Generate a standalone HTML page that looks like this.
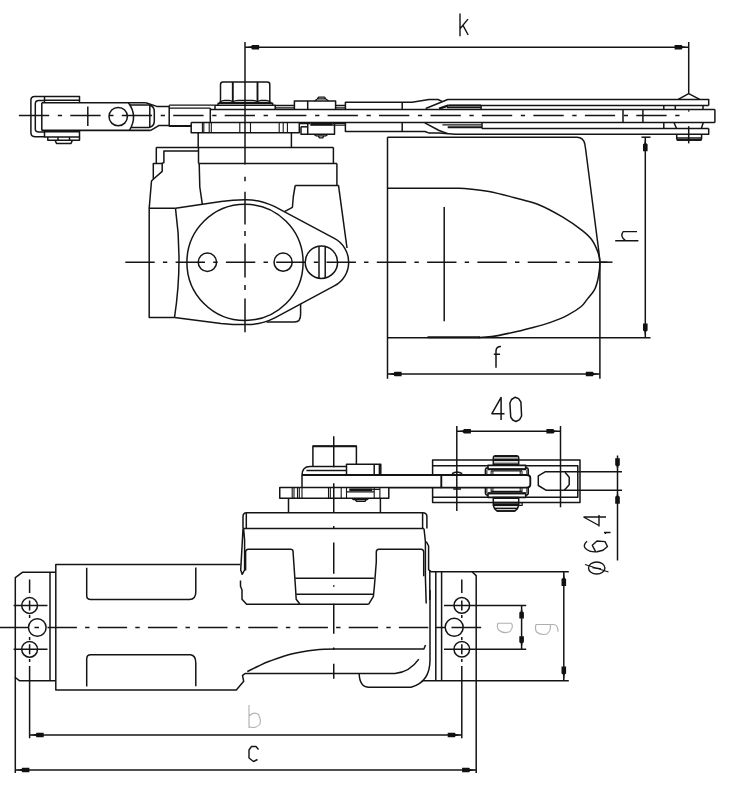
<!DOCTYPE html>
<html><head><meta charset="utf-8"><title>Door closer dimensions</title>
<style>
html,body{margin:0;padding:0;background:#fff;}
body{width:733px;height:800px;overflow:hidden;font-family:"Liberation Sans",sans-serif;}
svg{display:block}
</style></head><body>
<svg width="733" height="800" viewBox="0 0 733 800">
<rect x="0" y="0" width="733" height="800" fill="#fff" stroke="none"/>
<g fill="none" stroke="#141414" stroke-width="1.5" stroke-linecap="butt" stroke-linejoin="round" style="filter:blur(0.3px)">
<!-- k dimension -->
<line x1="245" y1="42" x2="245" y2="164.5"/>
<line x1="245" y1="47.2" x2="688.7" y2="47.2"/>
<line x1="688.7" y1="42" x2="688.7" y2="93.7"/>
<polygon points="245.6,47.2 251.1,46.3 252.1,44.9 259.1,44.9 259.1,49.5 252.1,49.5 251.1,48.1" fill="#111" stroke="none"/>
<polygon points="688.1,47.2 682.6,46.3 681.6,44.9 674.6,44.9 674.6,49.5 681.6,49.5 682.6,48.1" fill="#111" stroke="none"/>
<path d="M460,13.4V36.2M460,28.8L468,19.1M463,25.4L468.2,35" stroke-width="1.4"/>
<!-- vertical centre line top view -->
<path d="M245,176.7V181.3 M245,191.8V224.5 M245,231V236 M245,243.5V277.5 M245,285V290 M245,298.5V332.3"/>
<!-- arm centre line -->
<path d="M18.9,115.6H49.2 M57.8,115.6H62.1 M70.3,115.6H100.6 M109.2,115.6H113.5 M121.8,115.6H152.1 M160.7,115.6H165.0 M173.2,115.6H203.6 M212.2,115.6H216.5 M224.7,115.6H255.0 M263.6,115.6H267.9 M276.1,115.6H306.4 M315.1,115.6H319.4 M327.6,115.6H357.9 M366.5,115.6H370.8 M379.0,115.6H409.3 M417.9,115.6H422.2 M430.5,115.6H460.8 M469.4,115.6H473.7 M481.9,115.6H512.2 M520.8,115.6H525.1 M533.4,115.6H563.7 M572.3,115.6H576.6 M584.9,115.6H615.1 M623.8,115.6H628.0 M636.3,115.6H666.6 M675.2,115.6H679.5"/>
<!-- horizontal centre line top view -->
<path d="M125.3,262.2H154.7 M162.9,262.2H167.3 M175.6,262.2H205.0 M213.2,262.2H217.6 M225.9,262.2H255.3 M263.5,262.2H267.9 M276.2,262.2H305.6 M313.8,262.2H318.2 M326.5,262.2H355.9 M364.1,262.2H368.5 M376.8,262.2H406.2 M414.4,262.2H418.8 M427.1,262.2H456.5 M464.7,262.2H469.1 M477.4,262.2H506.8 M515.0,262.2H519.4 M527.7,262.2H557.1 M565.3,262.2H569.7 M578.0,262.2H607.4"/>
<line x1="600" y1="262.2" x2="612.5" y2="262.2"/>
<!-- left U bracket -->
<path d="M79.5,102.7V96.5H34.5Q30.9,96.5 30.9,100.3V132.5Q30.9,136.8 35.5,136.8H44.5"/>
<path d="M44.5,100.6H38.8Q35.3,100.6 35.3,104V129Q35.3,132 38.8,132H44.5"/>
<line x1="44.5" y1="100.2" x2="79.5" y2="100.2"/>
<line x1="44.5" y1="96.5" x2="44.5" y2="102.7"/>
<line x1="41.8" y1="102.7" x2="41.8" y2="130.4"/>
<path d="M41.8,102.7H145.8" stroke-width="1.6"/>
<path d="M41.8,130.4H150.8" stroke-width="1.6"/>
<path d="M44.5,130.4V137H79.5V130.4"/>
<line x1="44.5" y1="131.8" x2="79.5" y2="131.8"/>
<path d="M47.8,137V140.2H79.5V137"/>
<path d="M55,140.2L56.5,143.4H71L72.4,140.2"/>
<line x1="58" y1="137" x2="58" y2="140.2"/>
<line x1="69.5" y1="137" x2="69.5" y2="140.2"/>
<line x1="87.8" y1="106.4" x2="87.8" y2="126"/>
<circle cx="118.2" cy="116.6" r="9.2"/>
<path d="M128.4,102.7Q138.2,116 129.4,130.4"/>
<path d="M130,105H149Q154.3,106 154.3,111.5V121Q154.3,126.5 149,127.4H130.6"/>
<line x1="149.8" y1="105" x2="149.8" y2="127.4"/>
<path d="M145.8,102.7L156.8,106.4H169.2"/>
<path d="M150.8,130.4L158.7,125.6H169.2"/>
<!-- arm section 1 -->
<line x1="169.2" y1="105.5" x2="169.2" y2="126.4"/>
<path d="M169.2,105.2H214.6M169.2,108.1H210.3" stroke-width="1.3"/>
<path d="M169.2,126H191.2" stroke-width="2.0"/>
<line x1="210.3" y1="108.1" x2="210.3" y2="122.5"/>
<!-- nut -->
<path d="M220.5,102.5V84.5Q220.5,82 223,82H267.3Q269.8,82 269.8,84.5V102.5"/>
<path d="M232.8,82V101.8M257.5,82V101.8" stroke-width="1.9"/>
<path d="M220.5,101.8Q222,100.3 224.5,100.3H229Q231.5,100.3 232.8,101.8M232.8,101.8Q235,100.3 238,100.3H252Q255.5,100.3 257.5,101.8M257.5,101.8Q259,100.3 261,100.3H266Q268.5,100.3 269.8,101.8" stroke-width="1.2"/>
<!-- washer -->
<path d="M215,109.6V105.3H275.2V109.6M218.1,105.3V103.3H272.6V105.3"/>
<line x1="219" y1="102.4" x2="271.5" y2="102.4"/>
<!-- middle layer arm -->
<line x1="210.3" y1="109.6" x2="714.9" y2="109.6"/>
<line x1="191.2" y1="122.5" x2="714.9" y2="122.5"/>
<line x1="714.9" y1="109.6" x2="714.9" y2="122.5"/>
<!-- plate under arm -->
<path d="M191.2,122.4V132.8H299.3V122.4"/>
<path d="M202.4,122.4V132.8M203.8,122.4V132.8M209.2,122.4V132.8M211.3,122.4V132.8M239.8,122.4V132.8M250.5,122.4V132.8M279.2,122.4V132.8M283.2,122.4V132.8M287.4,122.4V132.8" stroke-width="1.1"/>
<line x1="198.2" y1="132.8" x2="198.2" y2="147.4"/>
<line x1="291.4" y1="132.8" x2="291.4" y2="147.4"/>
<!-- thin plate + pin heads -->
<path d="M275.3,105.5H294.4M335.6,105.5H345.4M275.3,107.8H294.4M335.6,107.8H345.4" stroke-width="1.3"/>
<path d="M294.4,109.4V100.9H335.6V109.4"/>
<line x1="307.7" y1="100.9" x2="307.7" y2="109.4"/>
<path d="M314.6,100.9L317.3,98.9H325.8L328.5,100.9M317.3,98.9L318.6,97.2H324.5L325.8,98.9" stroke-width="1.3"/>
<path d="M301,126.8V134.2H334.5V122.6"/>
<line x1="307.7" y1="123.4" x2="307.7" y2="134.2"/>
<path d="M310.3,124.4H332.8" stroke-width="2.8"/>
<line x1="301" y1="126.8" x2="307.7" y2="126.8"/>
<path d="M313.7,134.2L316,135.8H326L328,134.2M318,135.8L319.5,137.8H322.7L324,135.8" stroke-width="1.3"/>
<path d="M299.3,123.6H310M332.8,123.6H345.4M332.8,125.2H345.4" stroke-width="1.1"/>
<!-- right arm -->
<path d="M345.4,109.7V102.2H412L429,99.5H438L442,101.4"/>
<path d="M425.7,108.5L447.7,99.5H708.7V105.4"/>
<path d="M345.4,122.5V131.5H425L428.6,132.9H439L455.3,134.3H708.7V128.6"/>
<line x1="402.2" y1="102.2" x2="402.2" y2="109.7"/>
<line x1="402.2" y1="122.5" x2="402.2" y2="131.5"/>
<path d="M439.1,108.6L448.7,105.4" stroke-width="2.2"/>
<path d="M448.7,105.4H708.7"/>
<path d="M448.7,105.5H481.1" stroke-width="2.0"/>
<path d="M447,107.7H481.1" stroke-width="1.2"/>
<line x1="481.1" y1="105.4" x2="481.1" y2="109.7"/>
<path d="M424.8,122.9L439.1,130.5L447.7,133.6"/>
<path d="M442.4,124.8H481.6" stroke-width="1.2"/>
<path d="M447.7,127.3H482" stroke-width="2.0"/>
<path d="M482,128.5H708.7"/>
<line x1="482" y1="122.5" x2="482" y2="128.5"/>
<!-- right end -->
<line x1="623" y1="109.7" x2="623" y2="122.5"/>
<line x1="642.9" y1="109.7" x2="642.9" y2="122.5"/>
<path d="M663.8,105.4V109.7M675.3,105.4V109.7M703,105.4V109.7"/>
<path d="M663.8,122.5V128.5M674,122.5L676.5,128.5M703.3,122.5L701.3,128.5"/>
<path d="M676.7,134.3V138.6Q676.7,140 678.5,140H699.8Q701.6,140 701.6,138.6V134.3"/>
<path d="M676.7,140H701.6" stroke-width="1.8"/>
<line x1="676.7" y1="138" x2="701.6" y2="138"/>
<path d="M678.2,99.4L688.7,93.7L699.7,99.4"/>
<path d="M688.7,126.2V143.4"/>
<line x1="688.7" y1="110.2" x2="688.7" y2="111.6"/>
<!-- body -->
<line x1="156.3" y1="147.4" x2="333.4" y2="147.4"/>
<line x1="156.3" y1="147.4" x2="156.3" y2="163.4"/>
<line x1="333.4" y1="147.4" x2="333.4" y2="163.4"/>
<line x1="198.5" y1="163.4" x2="336.9" y2="163.4"/>
<line x1="198.5" y1="147.4" x2="198.5" y2="163.4"/>
<path d="M198.5,151H163.9V162.5L162.2,163.4V171.4L153.3,179.3"/>
<path d="M162.2,163.4H153.3V179.3L151.5,181L149.2,208.3"/>
<line x1="199.2" y1="163.4" x2="199.8" y2="187"/>
<line x1="199.8" y1="187" x2="202.3" y2="204.2"/>
<line x1="336.9" y1="163.4" x2="336.9" y2="185.5"/>
<line x1="295.2" y1="185.5" x2="338.7" y2="185.5"/>
<path d="M295.2,185.5L293.4,196L292.4,207.3L284.5,211.6"/>
<path d="M338.5,185.3L347,248"/>
<!-- ear outline -->
<path d="M175.5,208.3L221,201.5Q233,199.8 245,199.8A62.6,62.6 0 0 1 274.8,206.7L334.3,238.4A26.8,26.8 0 0 1 334.3,285.9L274.8,317.8A62.6,62.6 0 0 1 245,324.6Q233,324.6 221,323.4L174.5,317.6"/>
<circle cx="245" cy="262.4" r="58.1"/>
<path d="M175.5,208.3H149.2V317.6H174.5"/>
<path d="M175.5,208.3Q183,262 174.5,317.6"/>
<path d="M300.6,303.7V314.5Q300.6,322 294.6,322H266.5"/>
<circle cx="207.4" cy="262.2" r="9.2"/>
<circle cx="283.1" cy="262.2" r="9.1"/>
<circle cx="321.4" cy="262.2" r="16.2"/>
<line x1="319" y1="246.4" x2="319" y2="278"/>
<line x1="325.2" y1="246.6" x2="325.2" y2="277.8"/>
<!-- cover -->
<line x1="387.5" y1="137.2" x2="387.5" y2="378.8"/>
<path d="M387.5,137.2H577Q583.6,137.5 584.8,144L585.6,149L598.9,252L599.9,262.3V378.8"/>
<line x1="387.5" y1="337.8" x2="650.5" y2="337.8"/>
<path d="M387.5,188.2H455C458.0,188.2 458.9,187.9 464.6,188.4C470.3,188.9 480.8,189.9 489.0,191.4C497.2,192.9 505.5,195.3 513.7,197.5C521.9,199.7 530.0,201.2 538.2,204.5C546.4,207.8 555.4,212.8 562.8,217.2C570.2,221.6 577.5,226.8 582.4,230.7C587.3,234.6 589.7,236.8 592.3,240.5C594.9,244.2 596.9,249.4 598.2,253.0C599.5,256.6 599.9,258.3 599.9,262.3C599.9,266.3 599.3,272.5 598.4,277.0C597.5,281.5 596.6,285.6 594.7,289.3C592.9,293.0 589.5,296.2 587.3,299.1C585.0,302.0 584.5,303.8 581.2,306.5C577.9,309.2 572.8,312.5 567.7,315.1C562.6,317.8 556.2,320.3 550.5,322.4C544.8,324.4 539.4,325.8 533.3,327.4C527.2,329.0 520.7,330.8 513.7,332.3C506.8,333.8 497.6,335.8 491.6,336.6C485.7,337.5 482.7,337.4 478.0,337.4"/>
<path d="M427.5,337.3H480" stroke-width="2.0"/>
<line x1="444.2" y1="207" x2="444.2" y2="321.3"/>
<!-- f dimension -->
<line x1="387.5" y1="374" x2="599.9" y2="374"/>
<polygon points="388.1,374.0 393.6,373.1 394.6,371.7 401.6,371.7 401.6,376.3 394.6,376.3 393.6,374.9" fill="#111" stroke="none"/>
<polygon points="599.3,374.0 593.8,373.1 592.8,371.7 585.8,371.7 585.8,376.3 592.8,376.3 593.8,374.9" fill="#111" stroke="none"/>
<path d="M496,367.8V351Q496,346.5 501,346.6M493.8,354.3H500" stroke-width="1.5"/>
<!-- h dimension -->
<line x1="645.3" y1="137.2" x2="645.3" y2="337.5"/>
<line x1="641.5" y1="137.2" x2="650.5" y2="137.2"/>
<polygon points="645.3,137.8 644.4,143.3 643.0,144.3 643.0,151.3 647.6,151.3 647.6,144.3 646.2,143.3" fill="#111" stroke="none"/>
<polygon points="645.3,336.9 644.4,331.4 643.0,330.4 643.0,323.4 647.6,323.4 647.6,330.4 646.2,331.4" fill="#111" stroke="none"/>
<path d="M615.2,240.8H638.4M625.5,240.6Q619.5,236 623.2,231.6H637" stroke-width="1.4"/>
<!-- left flange -->
<path d="M55.8,572.2H22.7L15.3,577.7V677.5L19.3,680.7H55.8"/>
<line x1="50" y1="572.2" x2="50" y2="680.7"/>
<line x1="15.3" y1="677" x2="15.3" y2="773"/>
<!-- body outline -->
<path d="M240.5,564.6H55.8V690.1H236.3L243.7,681.3L242.5,675.3L245,673.6H395Q410,672 418.8,659.2"/>
<path d="M359.2,673.6Q359.5,687.3 369,687.3H411Q430,682 430,660V590"/>
<path d="M247.3,671.6C250.9,669.8 254.2,668.1 258.0,666.3C261.8,664.5 264.2,663.1 270.0,661.0C275.8,658.9 285.0,655.5 292.5,653.7C300.0,651.9 307.9,650.8 315.0,650.0C322.1,649.2 329.0,649.1 335.0,649.1H423.9L425.5,645"/>
<!-- slots -->
<path d="M86.7,567.7V595.6Q86.7,599.6 90.7,599.6H189.5Q195.8,599.2 195.8,592V567.5"/>
<path d="M86.7,686.5V659Q86.7,654.8 90.7,654.8H190.5Q195.8,655.4 195.8,663V686.3"/>
<!-- left holes -->
<circle cx="29.6" cy="605.5" r="7.9"/>
<circle cx="37.3" cy="627.5" r="8.8"/>
<circle cx="29.6" cy="649.3" r="7.9"/>
<path d="M29.6,579.5V593 M29.6,600.5V610.5 M29.6,615V618 M29.6,637V640 M29.6,644.3V654.3 M29.6,659V662 M29.6,666V738.2"/>
<path d="M13.6,605.5H47.5"/>
<path d="M13.6,649.3H47.5"/>
<!-- main centre line -->
<path d="M0,627.5H28.3 M34.5,627.5H39"/>
<path d="M47.5,627.5H76.9 M85.1,627.5H89.5 M97.7,627.5H127.1 M135.3,627.5H139.7 M147.9,627.5H177.3 M185.5,627.5H189.9 M198.1,627.5H227.5 M235.7,627.5H240.1 M248.3,627.5H277.7 M285.9,627.5H290.3 M298.5,627.5H327.9 M336.1,627.5H340.5 M348.7,627.5H378.1 M386.3,627.5H390.7 M398.9,627.5H428.3"/>
<path d="M435.8,627.4H445.3 M451.5,627.4H481.2"/>
<!-- housing -->
<path d="M243,528.5V516.5Q243,512.65 246.6,512.65H422.6Q426.9,512.65 426.9,516.5V528.5"/>
<line x1="246.3" y1="513" x2="246.3" y2="528.5"/>
<line x1="422.6" y1="513" x2="422.6" y2="528.5"/>
<line x1="243.2" y1="528.5" x2="424" y2="528.5"/>
<path d="M243,528.5L242.4,540L240.7,570L242.2,574.3L244.6,570V540L243.6,528.5"/>
<path d="M424,528.5L425.4,541.7V577.6L426.2,603.5"/>
<path d="M426.3,541.7L428.6,546V569.7L431.2,571.8H568.8"/>
<path d="M429.8,570.4V600"/>
<!-- left inner rect -->
<path d="M245.6,570.4V552Q245.6,549.2 248.3,549.2H290.5Q292.9,549.2 293,551L295.4,586.3L296.2,599.2L299.8,604"/>
<path d="M240.5,580.5V586.3L242,590V599.2L246.6,604.2H368.7"/>
<!-- right inner rect -->
<path d="M423.7,576.2V552Q423.7,549.2 421,549.2H378.8Q376.3,549.2 376.3,552V561.8L374.4,586.3L373.4,596.3L368.7,604.2"/>
<line x1="295.2" y1="578.3" x2="373.9" y2="578.3"/>
<line x1="296.2" y1="594.2" x2="373.4" y2="594.2"/>
<!-- right flange -->
<line x1="435.8" y1="571.8" x2="435.8" y2="680.7"/>
<line x1="441.6" y1="571.8" x2="441.6" y2="680.7"/>
<path d="M421.9,680.7H568.8"/>
<path d="M472,571.8L476.2,575.6V773"/>
<circle cx="461.8" cy="605.4" r="7.8"/>
<circle cx="454.2" cy="627.3" r="9"/>
<circle cx="461.8" cy="649.3" r="7.8"/>
<path d="M461.8,579.4V593 M461.8,600.5V610.5 M461.8,615V618 M461.8,637V640 M461.8,644.3V654.3 M461.8,659V662 M461.8,666V738.2"/>
<path d="M444,605.5H526.2"/>
<path d="M444,649.3H526.2"/>
<!-- upper assembly -->
<path d="M333.75,436.2V467.2 M333.75,483.2V512.5 M333.75,526V529 M333.75,542.5V573.75 M333.75,585.3V586.8 M333.75,603.75V633.75 M333.75,647.5V650 M333.75,663.75V678.75"/>
<path d="M312.9,466.4V446H356.4V464.6"/>
<path d="M312.9,446.3H356.4" stroke-width="1.8"/>
<path d="M302,487.6V475.2Q302,466.4 310,466.4H346.6"/>
<line x1="306.4" y1="470.4" x2="346.6" y2="470.4"/>
<path d="M302,475H441.3" stroke-width="1.9"/>
<path d="M388.8,487.6H441.3" stroke-width="1.9"/>
<path d="M346.5,474.6V464.3H380.8V474.6"/>
<line x1="374.2" y1="464.3" x2="374.2" y2="474.6"/>
<line x1="379.4" y1="464.3" x2="379.4" y2="474.6"/>
<path d="M279.75,487.6H388.8V498.3H279.75Z"/>
<path d="M292.2,487.6V498.3M294,487.6V498.3M297.5,487.6V498.3M299.3,487.6V498.3M302,487.6V498.3M328.5,487.6V498.3M330.3,487.6V498.3M341.2,487.6V498.3M346.5,487.6V498.3M374.2,487.6V498.3M379.9,487.6V498.3" stroke-width="1.1"/>
<path d="M349.3,489.7H372.2" stroke-width="2.6"/>
<path d="M346.5,491.8H374.2M372.2,489.4H379.9" stroke-width="1.2"/>
<path d="M351.7,498.3L353.5,499.6H367L368.9,498.3M355,499.6L356.5,501.3H365L366.5,499.6" stroke-width="1.3"/>
<path d="M288.5,498.3V512.65M380.4,498.3V512.65"/>
<!-- clamp and roller -->
<path d="M432.6,475V460H580V502.6H432.6V487.6"/>
<path d="M432.6,465.8H577.8V497.2H432.6"/>
<!-- roller -->
<rect x="485.4" y="467.7" width="42.9" height="27.5" rx="2.4"/>
<path d="M486.9,470V493M491.1,471V492M492.9,471V492M520.2,471V492M522,471V492M526.9,470V493" stroke-width="1.0"/>
<path d="M491.1,470.9H522M491.1,491.3H522" stroke-width="1.3"/>
<rect x="488" y="465.4" width="37.7" height="3.8" fill="#fff" stroke-width="1.6"/>
<path d="M488,469.3H525.7" stroke-width="2.0"/>
<rect x="488" y="493.4" width="37.7" height="4" fill="#fff" stroke-width="1.6"/>
<path d="M488,493.2H525.7" stroke-width="2.0"/>
<path d="M493.3,465.2V457.5Q493.3,455.9 495,455.9H517Q518.7,455.9 518.7,457.5V465.2Z" fill="#fff" stroke-width="1.5"/>
<path d="M494.5,456.1H517.5" stroke-width="2.0"/>
<path d="M493.3,459.8H518.7" stroke-width="2.4"/>
<path d="M493.3,464.4H518.7" stroke-width="2.2"/>
<path d="M493.6,457.9H518.4M493.6,462.2H518.4" stroke-width="0.7" stroke="#666"/>
<path d="M493.3,497.6V505.5L494.6,508.6L497,511H515L517.4,508.6L518.7,505.5V497.6Z" fill="#fff" stroke-width="1.5"/>
<path d="M493.3,498H518.7" stroke-width="2.0"/>
<path d="M493.3,502.7H518.7" stroke-width="2.2"/>
<path d="M493.3,505H518.7" stroke-width="2.2"/>
<path d="M494.6,508.4H517.4" stroke-width="1.6"/>
<path d="M497,511H515" stroke-width="1.6"/>
<path d="M517.8,502.7H522.2V505.3H517.8" stroke-width="1.2"/>
<path d="M441.3,475H526.5Q530.3,475 530.3,478V484.6Q530.3,487.6 526.5,487.6H441.3Z" fill="#fff" stroke-width="1.9"/>
<path d="M452,473.6Q457,470.2 462.2,473.6M453.2,488.9H461"/>
<!-- slot hexagon -->
<path d="M622,471.7H545.5L538.3,475.8V485.5L546.3,490.3H622"/>
<path d="M565,472.2L569.2,477.3V484.8L564.3,490.3"/>
<!-- 40 dimension -->
<line x1="456.8" y1="426" x2="456.8" y2="511"/>
<line x1="560.5" y1="426" x2="560.5" y2="507.3"/>
<line x1="456.8" y1="431.3" x2="560.5" y2="431.3"/>
<polygon points="457.4,431.3 462.9,430.4 463.9,429.0 470.9,429.0 470.9,433.6 463.9,433.6 462.9,432.2" fill="#111" stroke="none"/>
<polygon points="559.9,431.3 554.4,430.4 553.4,429.0 546.4,429.0 546.4,433.6 553.4,433.6 554.4,432.2" fill="#111" stroke="none"/>
<path d="M501.1,419.9V397.4L491.9,413.7H504.5" stroke-width="1.5"/>
<path d="M509.9,403L511.5,399.5L515.2,397.2L518.6,398.6L520.9,402L521.6,416L519.6,419.6L516,421.5L512.7,420L510.7,417Z" stroke-width="1.5"/>
<!-- dia 6.4 dimension -->
<line x1="617.5" y1="455.5" x2="617.5" y2="560.5"/>
<polygon points="617.5,471.7 616.6,466.2 615.2,465.2 615.2,458.2 619.8,458.2 619.8,465.2 618.4,466.2" fill="#111" stroke="none"/>
<polygon points="617.5,490.3 616.6,495.8 615.2,496.8 615.2,503.8 619.8,503.8 619.8,496.8 618.4,495.8" fill="#111" stroke="none"/>
<path d="M583.5,517H606M583.5,517L599,525.5M599,515V526.5" stroke-width="1.4"/>
<path d="M604,532.5H610.5M605.5,532.5V534" stroke-width="1.4"/>
<path d="M587,541.3Q582.5,545.5 585.5,548.5Q590,552.5 597,551.8L603,550.3L607.5,546.5L605,541.6L597,541L592.3,545.3L595.5,551.3" stroke-width="1.4"/>
<ellipse cx="596.7" cy="568" rx="8.2" ry="6" stroke-width="1.4"/>
<path d="M585,564.5L608.5,572M592.5,567.5L601,569" stroke-width="1.3"/>
<!-- a dimension -->
<line x1="521.6" y1="605.5" x2="521.6" y2="649.3"/>
<polygon points="521.6,606.0 520.7,611.5 519.3,612.5 519.3,618.5 523.9,618.5 523.9,612.5 522.5,611.5" fill="#111" stroke="none"/>
<polygon points="521.6,648.8 520.7,643.3 519.3,642.3 519.3,636.3 523.9,636.3 523.9,642.3 522.5,643.3" fill="#111" stroke="none"/>
<path d="M497.9,623.2H511.4M511.4,623.2Q514,627.5 509.6,631.8Q503.4,634 498.5,630Q496.5,627 497.9,623.2" stroke-width="1.1" stroke="#b0b0b0"/>
<!-- g dimension -->
<line x1="563.8" y1="571.8" x2="563.8" y2="680.7"/>
<polygon points="563.8,572.4 562.9,577.9 561.5,578.9 561.5,585.9 566.1,585.9 566.1,578.9 564.7,577.9" fill="#111" stroke="none"/>
<polygon points="563.8,680.1 562.9,674.6 561.5,673.6 561.5,666.6 566.1,666.6 566.1,673.6 564.7,674.6" fill="#111" stroke="none"/>
<path d="M536,624.5H553.8Q558,625 558,631.8M550.2,624.5Q551.5,630 547,634Q541,635.5 536.5,632Q534.5,628.5 536,624.5" stroke-width="1.1" stroke="#b0b0b0"/>
<!-- b dimension -->
<line x1="29.6" y1="735" x2="461.8" y2="735"/>
<polygon points="30.2,735.0 35.7,734.1 36.7,732.7 43.7,732.7 43.7,737.3 36.7,737.3 35.7,735.9" fill="#111" stroke="none"/>
<polygon points="461.2,735.0 455.7,734.1 454.7,732.7 447.7,732.7 447.7,737.3 454.7,737.3 455.7,735.9" fill="#111" stroke="none"/>
<path d="M249,705V728M249,716Q254,711 258.5,714.5Q261,719 260,724Q256,729 249,726.8" stroke-width="1.1" stroke="#b0b0b0"/>
<!-- c dimension -->
<line x1="15.3" y1="770" x2="476.2" y2="770"/>
<polygon points="15.9,770.0 21.4,769.1 22.4,767.7 29.4,767.7 29.4,772.3 22.4,772.3 21.4,770.9" fill="#111" stroke="none"/>
<polygon points="475.6,770.0 470.1,769.1 469.1,767.7 462.1,767.7 462.1,772.3 469.1,772.3 470.1,770.9" fill="#111" stroke="none"/>
<path d="M258.5,749.5L256,746.5H251.5L249,750V758L253.5,761.5L257.5,759.5" stroke-width="1.4"/>
</g>
</svg>
</body></html>
